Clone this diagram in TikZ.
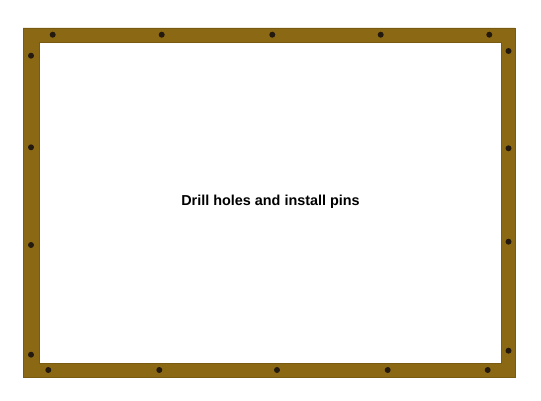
\documentclass[tikz,border=0pt]{standalone}
\usepackage{fontspec}
\setmainfont{Liberation Sans}
\definecolor{framebrown}{RGB}{139,105,20}
\definecolor{frameedge}{RGB}{120,90,16}
\definecolor{pindark}{RGB}{35,25,15}
\tikzset{
    framepart/.style={fill=framebrown, draw=frameedge, line width=0.5pt, even odd rule},
    pin/.style={fill=pindark, draw=none},
    caption/.style={font=\bfseries\fontsize{14.4}{17}\selectfont, text=black}
}
\begin{document}
\begin{tikzpicture}[x=1pt, y=1pt]
    \useasboundingbox (0,0) rectangle (541,400);

    % Frame
    \path[framepart] (23,23) rectangle (515,372) (39,37) rectangle (501,358);

    % Pins along the top
    \foreach \px in {52.7,161.7,272.3,380.7,489.3}
        \fill[pin] (\px,365.3) circle (3);

    % Pins along the bottom
    \foreach \px in {48.3,159.3,277,387.7,487.7}
        \fill[pin] (\px,30) circle (3);

    % Pins along the left side
    \foreach \py in {344.3,252.7,155,45.3}
        \fill[pin] (31,\py) circle (3);

    % Pins along the right side
    \foreach \py in {349,251.7,158.3,49.3}
        \fill[pin] (508.5,\py) circle (3);

    % Label
    \node[caption] (label) at (270.5,198) {Drill holes and install pins};
\end{tikzpicture}
\end{document}
